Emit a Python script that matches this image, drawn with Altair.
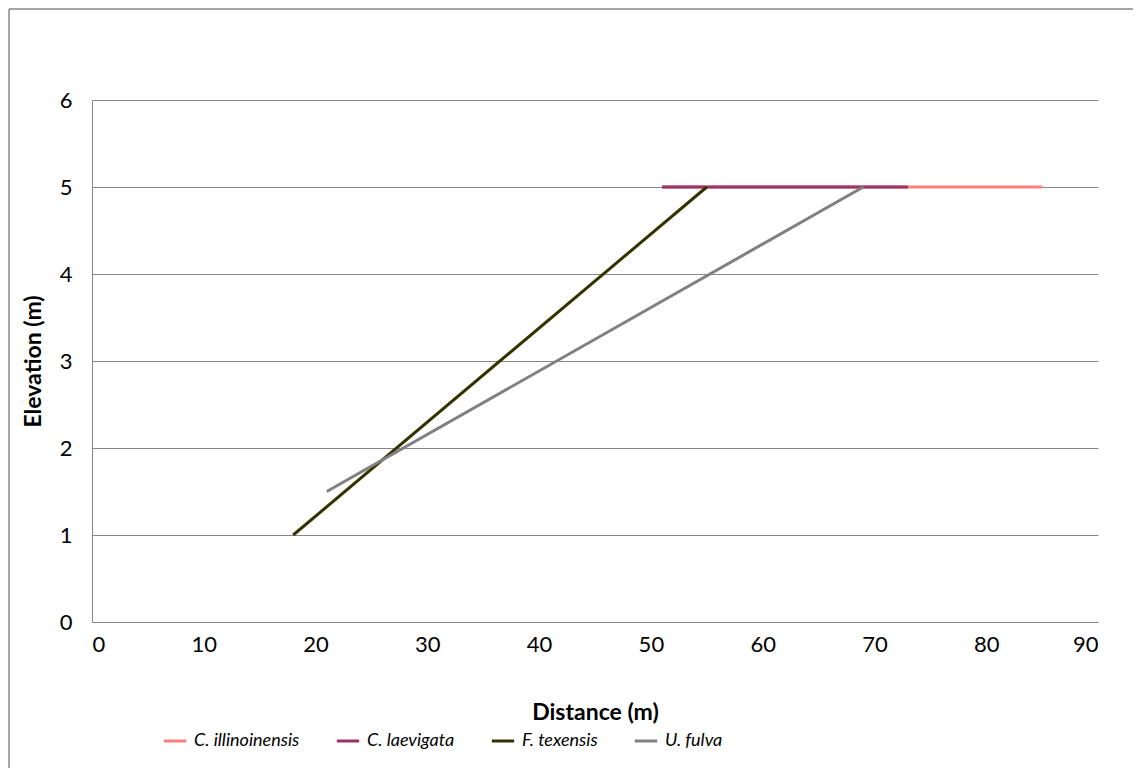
import altair as alt
import pandas as pd

series = ["C. illinoinensis", "C. laevigata", "F. texensis", "U. fulva"]
colors = ["#FF7F7F", "#993366", "#333300", "#808080"]
x_start = [51, 51, 18, 21]
x_end = [85, 73, 55, 69]
y_start = [5, 5, 1, 1.5]
y_end = [5, 5, 5, 5]

rows = []
for i, s in enumerate(series):
    rows.append({"series": s, "distance": x_start[i], "elevation": y_start[i], "ord": 0})
    rows.append({"series": s, "distance": x_end[i], "elevation": y_end[i], "ord": 1})
df = pd.DataFrame(rows)

W, H = 1006, 522
FONT = "Lato"

one = pd.DataFrame({"a": [0]})
border_left = alt.Chart(one).mark_rule(stroke="#878787", strokeWidth=1.5, clip=False).encode(
    x=alt.value(-83), y=alt.value(-91), y2=alt.value(H + 146),
)
border_top = alt.Chart(one).mark_rule(stroke="#878787", strokeWidth=1.5, clip=False).encode(
    x=alt.value(-83), x2=alt.value(W + 35), y=alt.value(-91),
)

lines = alt.Chart(df).mark_line(strokeWidth=3, clip=False).encode(
    x=alt.X("distance:Q", title="Distance (m)",
            scale=alt.Scale(domain=[0, 90], nice=False, zero=True),
            axis=alt.Axis(values=list(range(0, 91, 10)), grid=False, ticks=False,
                          domainColor="#878787", labelPadding=12, titlePadding=46,
                          labelFontSize=22, titleFontSize=23, labelFont=FONT, titleFont=FONT,
                          labelColor="black", titleColor="black", titleFontWeight="bold")),
    y=alt.Y("elevation:Q", title="Elevation (m)",
            scale=alt.Scale(domain=[0, 6], nice=False),
            axis=alt.Axis(values=list(range(0, 7)), grid=True, gridColor="#878787",
                          ticks=False, domainColor="#878787", labelPadding=20, titlePadding=14,
                          labelFontSize=22, titleFontSize=23, labelFont=FONT, titleFont=FONT,
                          labelColor="black", titleColor="black", titleFontWeight="bold")),
    color=alt.Color("series:N", scale=alt.Scale(domain=series, range=colors),
                    legend=alt.Legend(title=None, orient="none", legendX=70, legendY=628,
                                      direction="horizontal", symbolType="stroke",
                                      symbolStrokeWidth=3, symbolSize=500,
                                      labelFont=FONT, labelFontSize=18, labelFontStyle="italic",
                                      labelColor="black", columnPadding=30, labelOffset=6)),
    order="ord:Q",
    detail="series:N",
)

chart = alt.layer(border_left, border_top, lines).properties(
    width=W, height=H,
    autosize=alt.AutoSizeParams(type="none"),
    padding={"left": 84, "top": 92, "right": 35, "bottom": 146},
).configure_view(stroke=None)

chart.save("out.html", embed_options={"renderer": "svg", "actions": False})
